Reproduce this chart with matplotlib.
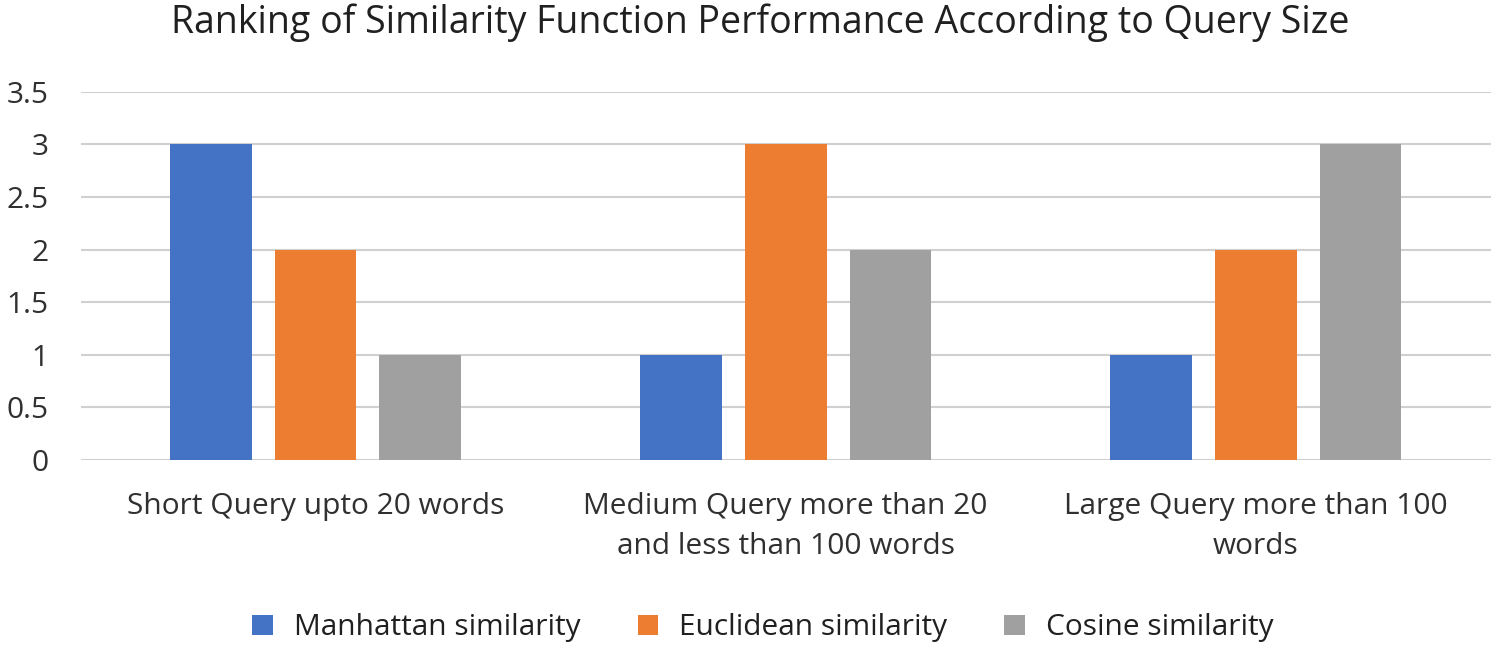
import numpy as np
import matplotlib.pyplot as plt

categories = ['Short Query upto 20 words',
              'Medium Query more than 20\nand less than 100 words',
              'Large Query more than 100\nwords']
series_names = ['Manhattan similarity', 'Euclidean similarity', 'Cosine similarity']
manhattan = [3, 1, 1]
euclidean = [2, 3, 2]
cosine = [1, 2, 3]

colors = ['#4472C4', '#ED7D31', '#A0A0A0']

plt.rcParams['font.family'] = ['Open Sans', 'DejaVu Sans']

fig = plt.figure(figsize=(15.05, 6.46), dpi=100)
ax = fig.add_axes([0.0535, 0.288, 0.937, 0.570])

x = np.arange(len(categories))
w = 0.174
step = 0.223
for i, (vals, name) in enumerate(zip([manhattan, euclidean, cosine], series_names)):
    ax.bar(x + (i - 1) * step, vals, width=w, color=colors[i], label=name, zorder=3)

ax.set_xlim(-0.5, 2.5)
ax.set_ylim(0, 3.5)
ax.set_yticks(np.arange(0, 3.51, 0.5))
ax.set_yticklabels(['0', '0.5', '1', '1.5', '2', '2.5', '3', '3.5'])
ax.set_xticks(x)
ax.set_xticklabels(categories, linespacing=1.5)
ax.tick_params(axis='both', length=0, labelsize=21.5, colors='#303030')
ax.tick_params(axis='x', pad=23)
ax.tick_params(axis='y', pad=23)
ax.grid(axis='y', color='#D0D0D0', linewidth=1.5, zorder=0)
for s in ax.spines.values():
    s.set_visible(False)

fig.suptitle('Ranking of Similarity Function Performance According to Query Size',
             x=0.505, y=0.995, fontsize=27, color='#202020')

leg = fig.legend(loc='center', bbox_to_anchor=(0.507, 0.028), ncol=3, frameon=False,
                 fontsize=21.5, handlelength=0.7, handleheight=0.7, columnspacing=1.9,
                 handletextpad=0.7)
for t in leg.get_texts():
    t.set_color('#202020')

fig.savefig('out.png', dpi=100)
